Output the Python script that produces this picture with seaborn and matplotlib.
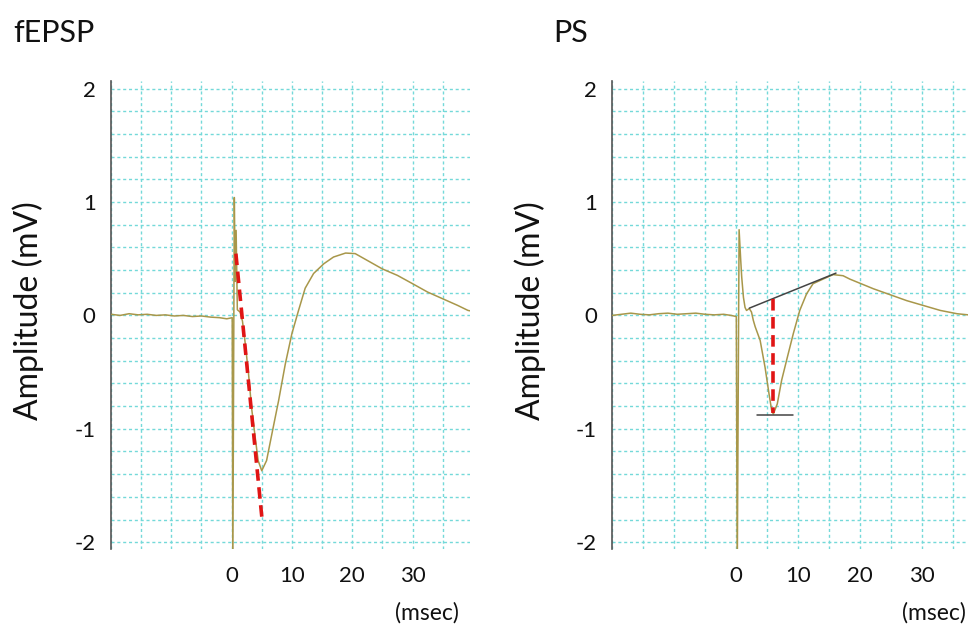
import matplotlib
matplotlib.use("Agg")
import matplotlib.pyplot as plt
from matplotlib.ticker import MultipleLocator, FixedLocator
import seaborn as sns
import pandas as pd

# ---------------- data ----------------
panel_titles = ["fEPSP", "PS"]
y_label = "Amplitude (mV)"
x_unit = "(msec)"
x_ticks = [0, 10, 20, 30]
y_ticks = [-2, -1, 0, 1, 2]

t_fepsp = [-20, -18.5, -17, -15.5, -14, -12.5, -11, -9.5, -8, -6.5, -5, -3.5, -2, -0.8,
           0.1, 0.2, 0.45, 0.6, 0.75, 0.95, 1.4, 1.8, 2.2, 2.8, 3.3, 3.9, 4.4, 5.0, 5.8, 6.7,
           7.8, 8.9, 10.0, 11.1, 12.2, 13.6, 15.3, 16.9, 18.9, 20.5, 22.5, 25.0, 27.5, 30.0,
           32.5, 35.0, 37.5, 39.2, 39.6]
v_fepsp = [0.01, 0.0, 0.015, 0.005, 0.01, 0.0, 0.005, -0.005, 0.0, -0.01, -0.005, -0.015, -0.02, -0.03,
           -0.02, -2.3, 1.04, 0.3, 0.75, 0.05, 0.03, -0.05, -0.22, -0.51, -0.81, -1.07, -1.28, -1.37, -1.28, -1.04,
           -0.75, -0.43, -0.16, 0.044, 0.24, 0.37, 0.456, 0.515, 0.55, 0.545, 0.485, 0.41, 0.353, 0.28,
           0.206, 0.147, 0.088, 0.044, 0.04]

t_ps = [-20, -18.5, -17, -15.5, -14, -12.5, -11, -9.5, -8, -6.5, -5, -3.5, -2, -0.8,
        0.05, 0.2, 0.5, 0.76, 0.92, 1.2, 1.46, 1.7, 2.15, 2.5, 2.8, 3.1, 3.9, 4.7, 5.33, 5.77,
        6.03, 6.67, 7.38, 8.29, 9.26, 10.3, 11.4, 12.45, 14.05, 15.7, 17.3, 18.4, 22.2, 27.6,
        33.0, 35.7, 37.5, 40.0]
v_ps = [0.0, 0.01, 0.02, 0.01, 0.005, 0.015, 0.02, 0.01, 0.015, 0.02, 0.01, 0.005, 0.01, 0.0,
        -0.01, -2.3, 0.756, 0.49, 0.34, 0.16, 0.07, 0.044, 0.06, 0.03, -0.044, -0.1, -0.22, -0.46, -0.69, -0.84,
        -0.87, -0.78, -0.57, -0.37, -0.16, 0.044, 0.19, 0.28, 0.32, 0.36, 0.35, 0.32, 0.235, 0.13,
        0.044, 0.015, 0.005, 0.0]

# annotation lines
fepsp_slope_t = [0.71, 5.07]
fepsp_slope_v = [0.545, -1.81]
ps_tangent_t = [2.15, 16.15]
ps_tangent_v = [0.064, 0.373]
ps_trough_t = [3.44, 9.16]
ps_trough_v = [-0.88, -0.88]
ps_amp_t = [6.03, 6.03]
ps_amp_v = [0.147, -0.865]

# ---------------- style ----------------
sns.set_theme(style="white")
plt.rcParams["font.family"] = ["Lato", "DejaVu Sans"]

TRACE = "#a8974a"
GRID = "#74d9d9"
RED = "#e01515"
DARK = "#444444"

fig = plt.figure(figsize=(9.68, 6.25), dpi=100)
W, H = 968.0, 625.0
bottom = 1 - 549 / H
height = (549 - 80.7) / H
ax1 = fig.add_axes([111 / W, bottom, 359.4 / W, height])
ax2 = fig.add_axes([612.2 / W, bottom, 371.4 / W, height])

df1 = pd.DataFrame({"t": t_fepsp, "v": v_fepsp})
df2 = pd.DataFrame({"t": t_ps, "v": v_ps})

for ax, df, xlim in ((ax1, df1, (-20, 39.6)), (ax2, df2, (-20, 40))):
    sns.lineplot(data=df, x="t", y="v", ax=ax, color=TRACE, lw=1.1,
                 estimator=None, sort=False, zorder=3)
    ax.set_xlim(*xlim)
    ax.set_ylim(-2.06, 2.07)
    ax.xaxis.set_major_locator(FixedLocator(x_ticks))
    ax.yaxis.set_major_locator(FixedLocator(y_ticks))
    ax.xaxis.set_minor_locator(MultipleLocator(5))
    ax.yaxis.set_minor_locator(MultipleLocator(0.2))
    ax.grid(True, which="both", color=GRID, lw=1.0, linestyle=(0, (2.2, 2.0)))
    ax.set_axisbelow(True)
    ax.tick_params(which="both", length=0)
    ax.tick_params(axis="y", pad=11, labelsize=16, labelcolor="#111111")
    ax.tick_params(axis="x", pad=12, labelsize=16, labelcolor="#111111")
    ax.set_xticklabels([str(v) for v in x_ticks])
    ax.set_yticklabels([str(v) for v in y_ticks])
    for s in ("top", "right", "bottom"):
        ax.spines[s].set_visible(False)
    ax.spines["left"].set_color("#555555")
    ax.spines["left"].set_linewidth(1.2)
    ax.set_xlabel("")
    ax.set_ylabel(y_label, fontsize=23, color="#111111")
    ax.yaxis.label.set_va("center")
    ax.set_facecolor("white")

ax1.yaxis.set_label_coords((28 - 111) / 359.4, (549 - 311) / 468.3)
ax2.yaxis.set_label_coords((530 - 612.2) / 371.4, (549 - 311) / 468.3)

# annotations
ax1.plot(fepsp_slope_t, fepsp_slope_v, color=RED, lw=2.6, linestyle=(0, (3.2, 1.8)), zorder=4)
ax2.plot(ps_tangent_t, ps_tangent_v, color=DARK, lw=1.1, zorder=4)
ax2.plot(ps_trough_t, ps_trough_v, color=DARK, lw=1.1, zorder=4)
ax2.plot(ps_amp_t, ps_amp_v, color=RED, lw=2.6, linestyle=(0, (3.2, 1.8)), zorder=4)

# titles and units
fig.text(13 / W, 1 - 42 / H, panel_titles[0], fontsize=22, ha="left", va="baseline", color="#111111")
fig.text(553 / W, 1 - 42 / H, panel_titles[1], fontsize=22, ha="left", va="baseline", color="#111111")
fig.text(427 / W, 1 - 613 / H, x_unit, fontsize=16.5, ha="center", va="center", color="#111111")
fig.text(934 / W, 1 - 613 / H, x_unit, fontsize=16.5, ha="center", va="center", color="#111111")

fig.savefig("out.png", dpi=100, facecolor="white")
